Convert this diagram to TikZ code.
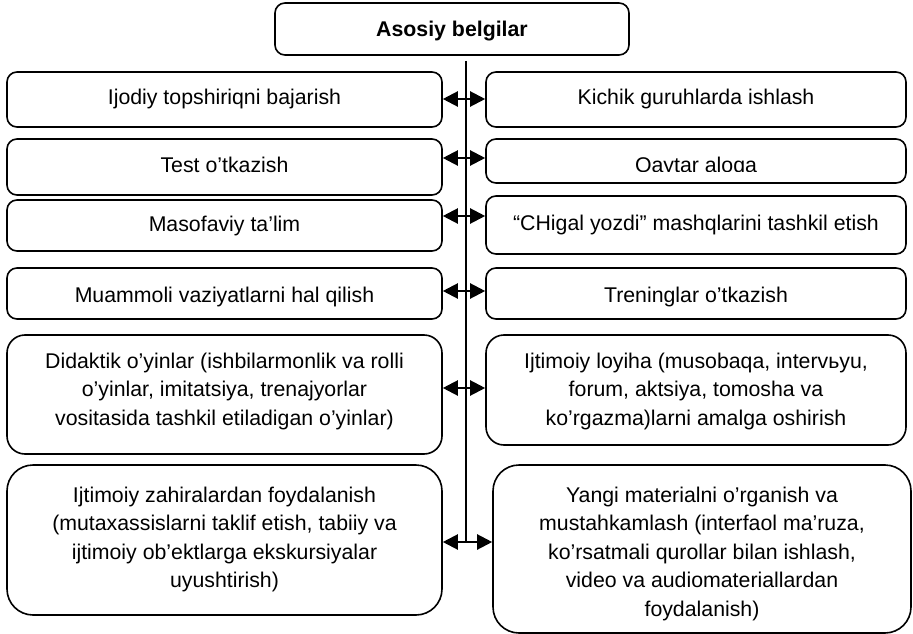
\documentclass[tikz,border=0pt]{standalone}
\usepackage{fontspec}
\setmainfont{Liberation Sans}
\usetikzlibrary{arrows.meta}
\begin{document}
\begin{tikzpicture}[x=1pt,y=-1pt,
  bx/.style={draw, line width=1.6pt, rounded corners=10pt, inner sep=0pt},
  bxm/.style={bx, rounded corners=18pt},
  bxl/.style={bx, rounded corners=26pt},
  txt/.style={inner sep=0pt, align=center, anchor=base, font=\fontsize{21.3}{28.5}\selectfont},
  dbl/.style={{Triangle[length=15pt,width=15pt]}-{Triangle[length=15pt,width=15pt]}, line width=2.2pt},
  spine/.style={line width=1.8pt}
]
\useasboundingbox (0,0) rectangle (913,634);

% title
\node[bx, minimum width=354pt, minimum height=52pt] (T) at (452,29) {};
\node[txt, font=\fontsize{21.3}{28.5}\selectfont\bfseries] (Tt) at (452,37) {Asosiy belgilar};

% left boxes
\node[bx, minimum width=435pt, minimum height=55pt] (L1) at (224.5,99.5) {};
\node[bx, minimum width=435pt, minimum height=56pt] (L2) at (224.5,167) {};
\node[bx, minimum width=435pt, minimum height=51pt] (L3) at (224.5,225.5) {};
\node[bx, minimum width=435pt, minimum height=51pt] (L4) at (224.5,293.5) {};
\node[bxm, minimum width=435pt, minimum height=119pt] (L5) at (224.5,394.5) {};
\node[bxl, minimum width=435pt, minimum height=150pt] (L6) at (224.5,540) {};

% right boxes
\node[bx, minimum width=420pt, minimum height=55pt] (R1) at (696,99.5) {};
\node[bx, minimum width=420pt, minimum height=44pt] (R2) at (696,161) {};
\node[bx, minimum width=420pt, minimum height=58pt] (R3) at (696,225) {};
\node[bx, minimum width=420pt, minimum height=51pt] (R4) at (696,293.5) {};
\node[bxm, minimum width=420pt, minimum height=110pt] (R5) at (696,390) {};
\node[bxl, minimum width=418pt, minimum height=168pt] (R6) at (702,549) {};

% texts left (multi-line nodes: base = last line)
\node[txt] (L1t) at (224.5,104) {Ijodiy topshiriqni bajarish};
\node[txt] (L2t) at (224.5,172) {Test o’tkazish};
\node[txt] (L3t) at (224.5,231) {Masofaviy ta’lim};
\node[txt] (L4t) at (224.5,302) {Muammoli vaziyatlarni hal qilish};
\node[txt] (L5t) at (224.5,425) {Didaktik o’yinlar (ishbilarmonlik va rolli\\o’yinlar, imitatsiya, trenajyorlar\\vositasida tashkil etiladigan o’yinlar)};
\node[txt] (L6t) at (224.5,587.5) {Ijtimoiy zahiralardan foydalanish\\(mutaxassislarni taklif etish, tabiiy va\\ijtimoiy ob’ektlarga ekskursiyalar\\uyushtirish)};

% texts right
\node[txt] (R1t) at (696,104) {Kichik guruhlarda ishlash};
\begin{scope}
  \clip (486,139) rectangle (906,171);
  \node[txt] (R2t) at (696,172) {Qaytar aloqa};
\end{scope}
\node[txt] (R3t) at (696,230) {“CHigal yozdi” mashqlarini tashkil etish};
\node[txt] (R4t) at (696,302) {Treninglar o’tkazish};
\node[txt] (R5t) at (696,425) {Ijtimoiy loyiha (musobaqa, intervьyu,\\forum, aktsiya, tomosha va\\ko’rgazma)larni amalga oshirish};
\node[txt] (R6t) at (702,616) {Yangi materialni o’rganish va\\mustahkamlash (interfaol ma’ruza,\\ko’rsatmali qurollar bilan ishlash,\\video va audiomateriallardan\\foydalanish)};

% spine coordinates
\coordinate (S0) at (466,61);
\coordinate (M1) at (466,99);
\coordinate (M2) at (466,158);
\coordinate (M3) at (466,216);
\coordinate (M4) at (466,291);
\coordinate (M5) at (466,388);
\coordinate (M6) at (466,542);

\draw[spine] (S0) -- (M6);

\draw[dbl] (L1.east |- M1) -- (R1.west |- M1);
\draw[dbl] (L2.east |- M2) -- (R2.west |- M2);
\draw[dbl] (L3.east |- M3) -- (R3.west |- M3);
\draw[dbl] (L4.east |- M4) -- (R4.west |- M4);
\draw[dbl] (L5.east |- M5) -- (R5.west |- M5);
\draw[dbl] (L6.east |- M6) -- (R6.west |- M6);
\end{tikzpicture}
\end{document}
